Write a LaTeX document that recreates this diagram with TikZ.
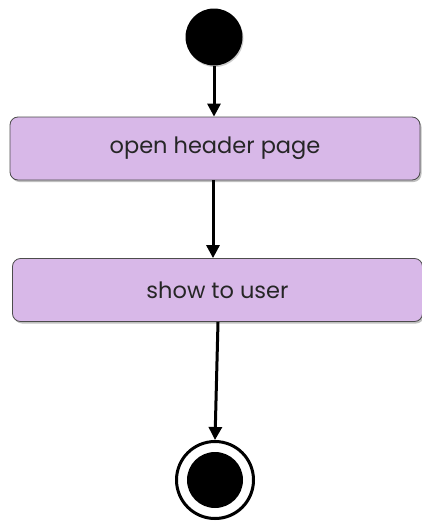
\documentclass[tikz,border=0pt]{standalone}
\usepackage{fontspec}
\setmainfont{Poppins}
\usetikzlibrary{arrows.meta,shadows}
\definecolor{actfill}{HTML}{D8B8E8}
\begin{document}
\begin{tikzpicture}[x=1pt,y=-1pt,
  act/.style={draw=black!70,line width=0.8pt,fill=actfill,rounded corners=8pt,
    minimum width=410pt,minimum height=63pt,inner sep=0pt,
    font=\fontsize{22.5}{26}\selectfont\color{black!85},
    drop shadow={shadow xshift=1.5pt,shadow yshift=-2pt,opacity=0.5}},
  flow/.style={line width=3pt,-{Triangle[width=13pt,length=13pt]}},
  startnode/.style={circle,fill=black,minimum size=57pt,inner sep=0pt,
    drop shadow={shadow xshift=1pt,shadow yshift=-1.5pt,opacity=0.4}},
  endring/.style={circle,draw=black,line width=3pt,fill=white,minimum size=77pt,inner sep=0pt,
    drop shadow={shadow xshift=1pt,shadow yshift=-1.5pt,opacity=0.4}},
  enddot/.style={circle,fill=black,minimum size=56pt,inner sep=0pt}]
\useasboundingbox (0,0) rectangle (422,522);
\node[startnode] (start) at (214,37) {};
\node[act] (a1) at (215,148.5) {open header page};
\node[act] (a2) at (217.5,290) {show to user};
\node[endring] (endo) at (215,480) {};
\node[enddot] (endi) at (215,480) {};
\draw[flow] (start.south) -- (start.south |- a1.north);
\draw[flow] ([xshift=-2pt]a1.south) -- ([xshift=-2pt]a1.south |- a2.north);
\draw[flow] ([xshift=0.5pt]a2.south) -- (endo.north);
\end{tikzpicture}
\end{document}
